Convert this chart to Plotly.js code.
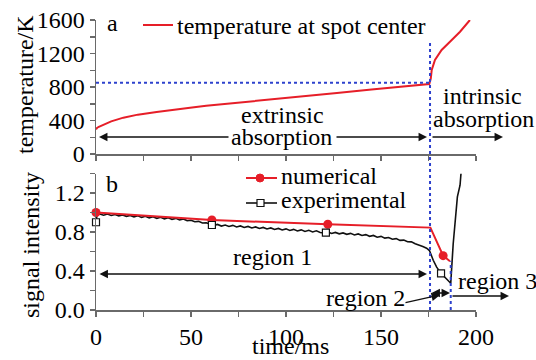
<!DOCTYPE html>
<html>
<head>
<meta charset="utf-8">
<script src="https://cdn.plot.ly/plotly-3.0.1.min.js"></script>
<style>html,body{margin:0;padding:0;background:#fff;}#chart{width:536px;height:360px;}</style>
</head>
<body>
<div id="chart"></div>
<script>
// ---- data ----
var tempTime = [0, 0.5, 1.5, 3.8, 8, 14.4, 22, 31.9, 40, 49.5, 58, 67, 80, 91.6, 110, 126.8, 145, 160, 175.4, 176.2, 176.7, 178.4, 181.9, 186.3, 191.6, 196.8];
var tempValue = [295, 310, 325, 346, 390, 434, 470, 501, 528, 553, 576, 597, 627, 653, 693, 729, 770, 804, 836, 900, 1003, 1122, 1242, 1341, 1460, 1600];

var numTime = [0, 61, 122, 176, 182.7, 186.3];
var numValue = [1.0, 0.923, 0.879, 0.845, 0.557, 0.50];
var numMarkTime = [0, 61, 122, 182.7];
var numMarkValue = [1.0, 0.923, 0.879, 0.557];

var expTime = [0, 0.6, 2, 4, 6, 8, 10, 12, 14, 16, 18, 20, 22, 24, 26, 28, 30, 32, 34, 36, 38, 40, 42, 44, 46, 48, 50, 52, 54, 56, 58, 60, 62, 64, 66, 68, 70, 72, 74, 76, 78, 80, 82, 84, 86, 88, 90, 92, 94, 96, 98, 100, 102, 104, 106, 108, 110, 112, 114, 116, 118, 120, 122, 124, 126, 128, 130, 132, 134, 136, 138, 140, 142, 144, 146, 148, 150, 152, 154, 156, 158, 160, 162, 164, 166, 168, 170, 172, 174, 175.5, 177.5, 179.3, 181.6, 184, 186.7, 188, 189, 190.2, 191.6, 192.1];
var expValue = [0.90, 0.98, 0.985, 0.972, 0.984, 0.970, 0.979, 0.966, 0.975, 0.961, 0.970, 0.956, 0.966, 0.950, 0.961, 0.945, 0.957, 0.940, 0.951, 0.935, 0.946, 0.930, 0.940, 0.924, 0.934, 0.916, 0.921, 0.905, 0.909, 0.893, 0.895, 0.878, 0.868, 0.878, 0.861, 0.872, 0.857, 0.868, 0.852, 0.862, 0.846, 0.857, 0.841, 0.852, 0.836, 0.847, 0.831, 0.842, 0.826, 0.837, 0.821, 0.832, 0.816, 0.827, 0.811, 0.822, 0.806, 0.817, 0.801, 0.812, 0.795, 0.790, 0.801, 0.785, 0.796, 0.781, 0.791, 0.776, 0.786, 0.770, 0.780, 0.764, 0.773, 0.756, 0.765, 0.747, 0.755, 0.737, 0.744, 0.726, 0.732, 0.714, 0.717, 0.700, 0.699, 0.680, 0.668, 0.652, 0.634, 0.61, 0.51, 0.44, 0.376, 0.33, 0.274, 0.68, 0.94, 1.16, 1.28, 1.40];
var expMarkTime = [0, 61, 121, 181.6];
var expMarkValue = [0.90, 0.872, 0.793, 0.376];

var xTickVals = [0, 50, 100, 150, 200];
var tempTicks = [0, 400, 800, 1200, 1600];
var sigTicks = [0, 0.4, 0.8, 1.2];

var extrinsicEnd = 175.8;   // ms, blue dotted boundary
var region2End = 186.7;     // ms
var tempThreshold = 850;    // K
var region2Top = 0.5;

// ---- helpers for pixel-placed labels ----
var W = 536, H = 360;
function px(x) { return x / W; }
function py(y) { return 1 - y / H; }

var serif = 'Liberation Serif, Times New Roman, serif';
var F = 24;
var axisColor = '#6a6a6a';
var blue = 'rgb(45,65,205)';
var red = 'rgb(230,30,40)';

var traces = [
  {x: tempTime, y: tempValue, xaxis: 'x', yaxis: 'y', mode: 'lines', line: {color: red, width: 2}, hoverinfo: 'skip'},
  {x: expTime, y: expValue, xaxis: 'x2', yaxis: 'y2', mode: 'lines', line: {color: '#111', width: 1.6}, hoverinfo: 'skip'},
  {x: numTime, y: numValue, xaxis: 'x2', yaxis: 'y2', mode: 'lines', line: {color: red, width: 2}, hoverinfo: 'skip'},
  {x: numMarkTime, y: numMarkValue, xaxis: 'x2', yaxis: 'y2', mode: 'markers', marker: {color: red, size: 9, symbol: 'circle'}, cliponaxis: false, hoverinfo: 'skip'},
  {x: expMarkTime, y: expMarkValue, xaxis: 'x2', yaxis: 'y2', mode: 'markers', marker: {color: '#fff', size: 7, symbol: 'square', line: {color: '#111', width: 1.2}}, cliponaxis: false, hoverinfo: 'skip'}
];

function axisCommon() {
  return {
    showline: true, linecolor: axisColor, linewidth: 1.5,
    ticks: 'outside', ticklen: 5, tickwidth: 1.5, tickcolor: axisColor,
    showgrid: false, zeroline: false, fixedrange: true,
    tickfont: {family: serif, size: F, color: '#000'}
  };
}

var xa = axisCommon();
Object.assign(xa, {domain: [px(96), px(476)], range: [0, 200], anchor: 'y', tickmode: 'array', tickvals: xTickVals, showticklabels: false,
  minor: {dtick: 25, ticks: 'outside', ticklen: 5, tickwidth: 1.5, tickcolor: axisColor}});
var ya = axisCommon();
Object.assign(ya, {domain: [py(154), py(20)], range: [0, 1600], anchor: 'x', tickmode: 'array', tickvals: tempTicks, ticklabelstandoff: 0,
  minor: {dtick: 200, ticks: 'outside', ticklen: 5, tickwidth: 1.5, tickcolor: axisColor}});
var xa2 = axisCommon();
Object.assign(xa2, {domain: [px(96), px(476)], range: [0, 200], anchor: 'y2', tickmode: 'array', tickvals: xTickVals, ticklabelstandoff: 0,
  minor: {dtick: 25, ticks: 'outside', ticklen: 5, tickwidth: 1.5, tickcolor: axisColor}});
var ya2 = axisCommon();
Object.assign(ya2, {domain: [py(310), py(173.5)], range: [0, 1.4], anchor: 'x2', tickmode: 'array', tickvals: sigTicks, tickformat: '.1f', ticklabelstandoff: 0,
  minor: {dtick: 0.2, ticks: 'outside', ticklen: 5, tickwidth: 1.5, tickcolor: axisColor}});

function txt(t, x, y, xanchor, extra) {
  var a = {text: t, x: px(x), y: py(y), xref: 'paper', yref: 'paper', xanchor: xanchor || 'center', yanchor: 'middle',
    showarrow: false, font: {family: serif, size: F, color: '#000'}};
  if (extra) Object.assign(a, extra);
  return a;
}
function arrow(hx, hy, tx, ty, both) {
  return {text: '', x: px(hx), y: py(hy), xref: 'paper', yref: 'paper', ax: tx - hx, ay: ty - hy, axref: 'pixel', ayref: 'pixel',
    showarrow: true, arrowhead: 2, arrowsize: 1.3, arrowwidth: 1.3, arrowcolor: '#111', arrowside: both ? 'end+start' : 'end',
    startarrowhead: 2, startarrowsize: 1.3, standoff: 0, startstandoff: 0};
}

var annotations = [
  txt('temperature/K', 25, 85, 'center', {textangle: -90}),
  txt('signal intensity', 31, 245, 'center', {textangle: -90}),
  txt('time/ms', 290, 346),
  txt('a', 112, 23),
  txt('b', 112, 184),
  txt('temperature at spot center', 175, 26, 'left'),
  txt('extrinsic', 282, 115),
  txt('absorption', 281, 137),
  txt('intrinsic', 482, 96),
  txt('absorption', 483, 119),
  txt('numerical', 279, 176, 'left'),
  txt('experimental', 279, 200, 'left'),
  txt('region 1', 272, 257),
  txt('region 2', 365, 298),
  txt('region 3', 456, 281, 'left'),
  arrow(99, 137, 230, 137),
  arrow(427, 137, 335, 137),
  arrow(503, 137, 431, 137),
  arrow(427, 274, 98, 274, true),
  arrow(450, 293, 430, 293, true),
  arrow(440, 295, 404, 303),
  arrow(509, 296, 451, 296)
];

var shapes = [
  {type: 'line', xref: 'x', yref: 'y', x0: 0, x1: extrinsicEnd, y0: tempThreshold, y1: tempThreshold, line: {color: blue, width: 2, dash: 'dot'}},
  {type: 'line', xref: 'x', yref: 'paper', x0: extrinsicEnd, x1: extrinsicEnd, y0: py(310), y1: py(42), line: {color: blue, width: 2, dash: 'dot'}},
  {type: 'line', xref: 'x2', yref: 'y2', x0: region2End, x1: region2End, y0: 0, y1: region2Top, line: {color: blue, width: 2, dash: 'dot'}},
  // legend samples
  {type: 'line', xref: 'paper', yref: 'paper', x0: px(143), x1: px(173), y0: py(25), y1: py(25), line: {color: red, width: 2}},
  {type: 'line', xref: 'paper', yref: 'paper', x0: px(246), x1: px(277), y0: py(178), y1: py(178), line: {color: red, width: 2}},
  {type: 'circle', xref: 'paper', yref: 'paper', x0: px(256), x1: px(264), y0: py(182), y1: py(174), fillcolor: red, line: {color: red, width: 1}},
  {type: 'line', xref: 'paper', yref: 'paper', x0: px(246), x1: px(277), y0: py(203), y1: py(203), line: {color: '#111', width: 1.6}},
  {type: 'rect', xref: 'paper', yref: 'paper', x0: px(257), x1: px(264), y0: py(206.5), y1: py(199.5), fillcolor: '#fff', line: {color: '#111', width: 1.2}}
];

var layout = {
  width: W, height: H,
  margin: {l: 0, r: 0, t: 0, b: 0, pad: 0},
  paper_bgcolor: '#fff', plot_bgcolor: '#fff',
  showlegend: false,
  xaxis: xa, yaxis: ya, xaxis2: xa2, yaxis2: ya2,
  annotations: annotations, shapes: shapes,
  font: {family: serif, size: F, color: '#000'}
};

Plotly.newPlot('chart', traces, layout, {staticPlot: true, displayModeBar: false});
</script>
</body>
</html>
